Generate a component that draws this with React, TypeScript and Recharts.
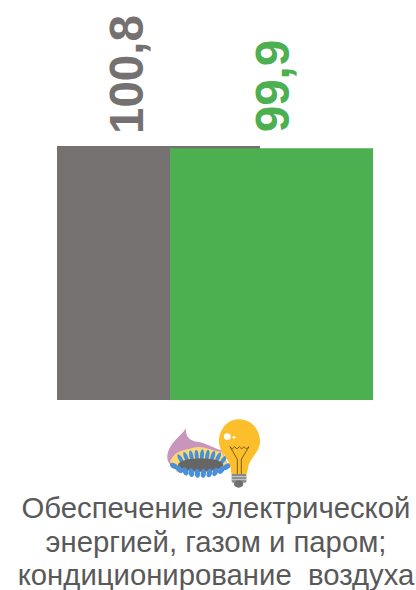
import { Bar, BarChart, LabelList, XAxis, YAxis } from "recharts";

const categories = ["Обеспечение электрической|энергией, газом и паром;|кондиционирование  воздуха"];
const previousValues = [100.8];
const currentValues = [99.9];

const data = categories.map((name, i) => ({
  name,
  previous: previousValues[i],
  current: currentValues[i],
}));

const FONT = '"Liberation Sans", Arial, sans-serif';

function CaptionTick({ x, payload }: any) {
  const lines = String(payload.value).split("|");
  return (
    <text x={x} textAnchor="middle" fontFamily={FONT} fontSize={29.3} fill="#595959" style={{ whiteSpace: "pre" }}>
      {lines.map((line, i) => (
        <tspan key={i} x={x + 1} y={518 + i * 33.5} xmlSpace="preserve">
          {line}
        </tspan>
      ))}
    </text>
  );
}

function rotatedLabel(color: string, shift: number, lift: number) {
  return function RotatedLabel({ x, y, width, value }: any) {
    const cx = x + width / 2 + shift;
    const by = y - lift;
    return (
      <text
        x={cx}
        y={by}
        transform={`rotate(-90 ${cx} ${by})`}
        dy="0.36em"
        fontFamily={FONT}
        fontWeight="bold"
        fontSize={47.5}
        fill={color}
      >
        {String(value).replace(".", ",")}
      </text>
    );
  };
}

// burner + light bulb picture under the bars
function EnergyIcon() {
  const upperFlames = [
    [92, 178, -30], [108, 172, -22], [124, 168, -12], [140, 166, -5], [156, 165, 4],
    [172, 166, 10], [188, 169, 18], [204, 173, 26], [220, 180, 36],
  ];
  const lowerFlames = [
    [72, 198, -60], [88, 208, -45], [106, 214, -25], [124, 218, -12], [142, 220, -4],
    [160, 220, 4], [178, 219, 12], [196, 216, 24], [214, 210, 40], [230, 200, 55],
  ];
  return (
    <svg width={416} height={590} style={{ position: "absolute", left: 0, top: 0, pointerEvents: "none" }}>
      <g transform="translate(150 400) scale(0.3333)">
        <path d="M52 165C60 125 90 112 108 85C106 105 115 122 140 125C170 128 190 146 215 150L232 190L75 205C60 195 50 185 52 165Z" fill="#c995bd" />
        <path d="M60 185C75 150 100 152 130 143C160 135 190 155 215 155L235 200L80 215Z" fill="#fbd874" />
        {upperFlames.map(([x, y, a]) => (
          <ellipse key={`u${x}`} cx={x} cy={y} rx={6} ry={17} fill="#4a90d9" transform={`rotate(${a} ${x} ${y})`} />
        ))}
        <ellipse cx={152} cy={195} rx={68} ry={20} fill="#666666" />
        {lowerFlames.map(([x, y, a]) => (
          <ellipse key={`l${x}`} cx={x} cy={y} rx={8} ry={13} fill="#4a90d9" transform={`rotate(${a} ${x} ${y})`} />
        ))}
        <path d="M268 58C230 58 207 90 207 125C207 152 232 170 240 195L245 224L290 224L296 195C305 170 330 152 330 125C330 90 305 58 268 58Z" fill="#fdbe2b" />
        <circle cx={232} cy={110} r={10} fill="#fff" />
        <circle cx={252} cy={112} r={4} fill="#fff" />
        <path d="M240 140L247 147L254 140L261 147L268 140L275 147L282 140L289 147L297 140M240 140L262 178M297 140L274 178M262 178L262 222M274 178L274 222" fill="none" stroke="#5c4a20" strokeWidth={2.5} />
        <rect x={245} y={222} width={44} height={26} rx={4} fill="#8a8a8a" />
        <path d="M245 230L289 230M245 239L289 239" stroke="#cfcfcf" strokeWidth={3} />
        <ellipse cx={266} cy={252} rx={14} ry={11} fill="#6f6f6f" />
      </g>
    </svg>
  );
}

export default function App() {
  return (
    <div style={{ position: "absolute", left: 0, top: 0, width: 416, height: 590 }}>
      <BarChart
        width={416}
        height={590}
        data={data}
        margin={{ top: 146, right: 16, left: 30, bottom: 0 }}
        barSize={203}
        barGap={-90}
        barCategoryGap={0}
      >
        <XAxis dataKey="name" height={190} axisLine={false} tickLine={false} interval={0} tick={<CaptionTick />} />
        <YAxis hide domain={[0, 100.8]} />
        <Bar dataKey="previous" fill="#767171" isAnimationActive={false}>
          <LabelList dataKey="previous" content={rotatedLabel("#767171", -33, 12)} />
        </Bar>
        <Bar dataKey="current" fill="#4caf50" isAnimationActive={false}>
          <LabelList dataKey="current" content={rotatedLabel("#4caf50", 0, 16)} />
        </Bar>
      </BarChart>
      <EnergyIcon />
    </div>
  );
}
